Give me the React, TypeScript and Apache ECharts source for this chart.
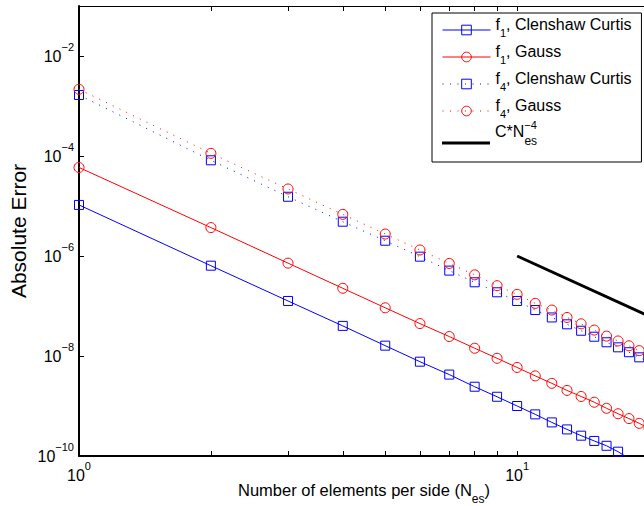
import React, { useEffect, useRef } from 'react';
import * as echarts from 'echarts';

// ---- data ----
const nValues = [1, 2, 3, 4, 5, 6, 7, 8, 9, 10, 11, 12, 13, 14, 15, 16, 17, 18, 19, 20];
const f1ClenshawCurtis = [1.05e-5, 6.4e-7, 1.26e-7, 4.0e-8, 1.61e-8, 7.7e-9, 4.25e-9, 2.43e-9, 1.53e-9, 1.0e-9, 6.8e-10, 4.7e-10, 3.4e-10, 2.55e-10, 2.0e-10, 1.6e-10, 1.22e-10, 8.9e-11, 7.0e-11, 5.6e-11];
const f1Gauss = [5.9e-5, 3.7e-6, 7.2e-7, 2.26e-7, 9.2e-8, 4.45e-8, 2.45e-8, 1.43e-8, 9.0e-9, 5.9e-9, 4.0e-9, 2.84e-9, 2.05e-9, 1.55e-9, 1.19e-9, 9.0e-10, 7.0e-10, 5.6e-10, 4.5e-10, 3.6e-10];
const f4ClenshawCurtis = [1.66e-3, 8.2e-5, 1.53e-5, 4.85e-6, 2.02e-6, 9.7e-7, 5.1e-7, 2.98e-7, 1.88e-7, 1.26e-7, 8.3e-8, 5.9e-8, 4.3e-8, 3.2e-8, 2.43e-8, 1.88e-8, 1.49e-8, 1.19e-8, 9.4e-9, 7.6e-9];
const f4Gauss = [2.16e-3, 1.13e-4, 2.19e-5, 6.8e-6, 2.75e-6, 1.32e-6, 7.1e-7, 4.2e-7, 2.55e-7, 1.71e-7, 1.13e-7, 8.3e-8, 5.9e-8, 4.4e-8, 3.3e-8, 2.5e-8, 2.0e-8, 1.6e-8, 1.28e-8, 1.0e-8];
const refN = [10, 20];
const refValues = [1e-6, 6.25e-8];

const xTickValues = [1, 2, 3, 4, 5, 6, 7, 8, 9, 10, 20];
const xLabelValues = [1, 10];
const yTickValues = [1e-10, 1e-8, 1e-6, 1e-4, 1e-2];

const seriesNames = ['f1, Clenshaw Curtis', 'f1, Gauss', 'f4, Clenshaw Curtis', 'f4, Gauss'];
const refName = 'C*N_es^-4';

const FONT = "'Liberation Sans', Arial, Helvetica, sans-serif";
const BLUE = '#0000ff';
const RED = '#ff0000';

const fmtExp = (n: number) => (n < 0 ? '\u2212' + String(-n) : String(n));
const expLabel = (v: number) => `{b|10}{p|${fmtExp(Math.round(Math.log10(v)))}}`;

const tickRich = {
  b: { fontSize: 16, lineHeight: 30, padding: [7, 0, 7, 0], fontFamily: FONT, color: '#000' },
  p: { fontSize: 11, lineHeight: 30, padding: [0, 0, 19, 0], fontFamily: FONT, color: '#000' },
};

const pairs = (ys: number[], xs: number[]) => xs.map((x, i) => [x, ys[i]]);

export default function App() {
  const ref = useRef<HTMLDivElement>(null);
  useEffect(() => {
    if (!ref.current) return;
    const chart = echarts.init(ref.current, undefined, { renderer: 'svg' });

    const axisCommonX = {
      type: 'log' as const,
      logBase: 10,
      min: 1,
      max: 20,
      splitLine: { show: false },
      minorTick: { show: false },
      minorSplitLine: { show: false },
    };
    const axisCommonY = {
      type: 'log' as const,
      logBase: 10,
      min: 1e-10,
      max: 1e-1,
      splitLine: { show: false },
      minorTick: { show: false },
      minorSplitLine: { show: false },
    };

    const legendRich = {
      b: { fontSize: 16, lineHeight: 28, padding: [0, 0, 12, 0], fontFamily: FONT, color: '#000' },
      s: { fontSize: 11, lineHeight: 28, padding: [11.5, 0, 5.5, 0], fontFamily: FONT, color: '#000' },
    };
    const legend2Rich = {
      b: { fontSize: 16, lineHeight: 48, padding: [4, 0, 28, 0], fontFamily: FONT, color: '#000' },
      p: { fontSize: 11, lineHeight: 48, padding: [0, 0, 37, 0], width: 0.1, fontFamily: FONT, color: '#000' },
      s: { fontSize: 12, lineHeight: 48, padding: [16, 0, 20, 0], fontFamily: FONT, color: '#000' },
    };

    const mkSeries = (name: string, ys: number[], color: string, symbol: string, size: number, dotted: boolean) => ({
      name,
      type: 'line',
      data: pairs(ys, nValues),
      xAxisIndex: 0,
      yAxisIndex: 0,
      symbol,
      symbolSize: size,
      showSymbol: true,
      clip: true,
      lineStyle: { color, width: 1, type: dotted ? [1, 6.5] : 'solid' },
      itemStyle: { color: 'rgba(0,0,0,0)', borderColor: color, borderWidth: 1 },
      emphasis: { disabled: true },
      z: dotted ? 2 : 3,
    });

    chart.setOption({
      animation: false,
      backgroundColor: '#fff',
      grid: { left: 79, top: 6, right: 11, bottom: 50, containLabel: false, outerBoundsMode: 'none' },
      xAxis: [
        {
          ...axisCommonX,
          position: 'bottom',
          axisLine: { show: true, onZero: false, lineStyle: { color: '#000', width: 2 } },
          axisTick: { show: true, inside: true, length: 5, customValues: xTickValues, lineStyle: { color: '#000', width: 1 } },
          axisLabel: { show: true, customValues: xLabelValues, margin: 4, formatter: (v: number) => expLabel(v), rich: tickRich },
          name: '{b|Number of elements per side (N}{s|es}{b|)}',
          nameLocation: 'middle',
          nameGap: 25,
          nameMoveOverlap: false,
          nameTextStyle: {
            rich: {
              b: { fontSize: 16.5, lineHeight: 31, padding: [0, 0, 14, 0], fontFamily: FONT, color: '#000' },
              s: { fontSize: 12, lineHeight: 31, padding: [12, 0, 7, 0], fontFamily: FONT, color: '#000' },
            },
          },
        },
        {
          ...axisCommonX,
          position: 'top',
          axisLine: { show: true, onZero: false, lineStyle: { color: '#000', width: 1 } },
          axisTick: { show: true, inside: true, length: 5, customValues: xTickValues, lineStyle: { color: '#000', width: 1 } },
          axisLabel: { show: false },
        },
      ],
      yAxis: [
        {
          ...axisCommonY,
          position: 'left',
          axisLine: { show: true, onZero: false, lineStyle: { color: '#000', width: 2 } },
          axisTick: { show: true, inside: true, length: 5, customValues: yTickValues, lineStyle: { color: '#000', width: 1 } },
          axisLabel: { show: true, customValues: yTickValues, margin: 5, formatter: (v: number) => expLabel(v), rich: tickRich },
          name: 'Absolute Error',
          nameLocation: 'middle',
          nameGap: 50,
          nameMoveOverlap: false,
          nameTextStyle: { fontSize: 21, fontFamily: FONT, color: '#000' },
        },
        {
          ...axisCommonY,
          position: 'right',
          axisLine: { show: true, onZero: false, lineStyle: { color: '#000', width: 1 } },
          axisTick: { show: true, inside: true, length: 5, customValues: yTickValues, lineStyle: { color: '#000', width: 1 } },
          axisLabel: { show: false },
        },
      ],
      legend: [
        {
          show: true,
          orient: 'vertical',
          left: 432,
          top: 13,
          padding: [3, 10, 37, 10],
          itemWidth: 48,
          itemHeight: 12,
          itemGap: -1,
          selectedMode: false,
          backgroundColor: '#fff',
          borderColor: '#000',
          borderWidth: 1,
          borderRadius: 0,
          z: 5,
          data: seriesNames,
          lineStyle: { width: 1 },
          itemStyle: { borderWidth: 1 },
          textStyle: { fontFamily: FONT, fontSize: 16, color: '#000', rich: legendRich },
          formatter: (name: string) => {
            const m = name.match(/^f(\d), (.*)$/);
            if (!m) return name;
            return `{b|f}{s|${m[1]}}{b|, ${m[2]}}`;
          },
        },
        {
          show: true,
          orient: 'vertical',
          left: 442,
          top: 119,
          padding: 0,
          itemWidth: 48,
          itemHeight: 3,
          selectedMode: false,
          z: 10,
          data: [{ name: refName, icon: 'rect', itemStyle: { color: '#000', borderWidth: 0 } }],
          textStyle: { fontFamily: FONT, fontSize: 16, color: '#000', rich: legend2Rich },
          formatter: () => '{b|C*N}{p|\u22124}{s|es}',
        },
      ],
      series: [
        mkSeries(seriesNames[0], f1ClenshawCurtis, BLUE, 'rect', 9, false),
        mkSeries(seriesNames[1], f1Gauss, RED, 'circle', 10, false),
        mkSeries(seriesNames[2], f4ClenshawCurtis, BLUE, 'rect', 9, true),
        mkSeries(seriesNames[3], f4Gauss, RED, 'circle', 10, true),
        {
          name: refName,
          type: 'line',
          data: pairs(refValues, refN),
          symbol: 'none',
          clip: true,
          lineStyle: { color: '#000', width: 3 },
          itemStyle: { color: '#000' },
          emphasis: { disabled: true },
          z: 4,
        },
      ],
    });

    return () => chart.dispose();
  }, []);

  return (
    <div style={{ position: 'fixed', left: 0, top: 0, width: 644, height: 506, overflow: 'hidden', background: '#fff' }}>
      <div ref={ref} style={{ width: 660, height: 506 }} />
    </div>
  );
}
